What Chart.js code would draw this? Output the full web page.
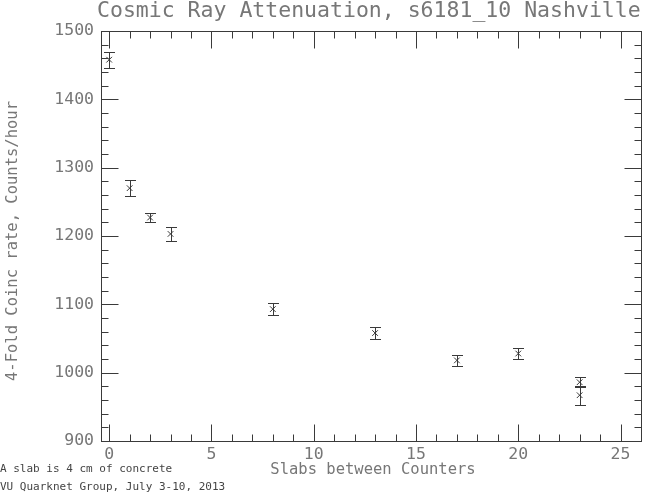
<!DOCTYPE html>
<html>
<head>
<meta charset="utf-8">
<script src="https://cdn.jsdelivr.net/npm/chart.js@4.4.1/dist/chart.umd.min.js"></script>
<style>
html,body{margin:0;padding:0;background:#fff;}
#wrap{width:646px;height:495px;position:relative;}
</style>
</head>
<body>
<div id="wrap"><canvas id="c" width="646" height="495"></canvas></div>
<script>
// ---- data ----
const slabs = [0, 1, 2, 3, 8, 13, 17, 20, 23, 23];
const rates = [1458, 1270, 1227, 1203, 1093, 1058, 1018, 1028, 986, 967];
const errors = [12, 12, 7, 10, 9, 9, 8.5, 7.5, 7, 14];
const xTickLabels = [0, 5, 10, 15, 20, 25];
const yTickLabels = [900, 1000, 1100, 1200, 1300, 1400, 1500];
const titleText = 'Cosmic Ray Attenuation, s6181_10 Nashville';
const xTitle = 'Slabs between Counters';
const yTitle = '4-Fold Coinc rate, Counts/hour';
const notes = ['A slab is 4 cm of concrete', 'VU Quarknet Group, July 3-10, 2013'];

const MONO = '"DejaVu Sans Mono", "Liberation Mono", monospace';
const TEXT = '#777777';
const LINE = '#3a3a3a';

const decor = {
  id: 'decor',
  afterDatasetsDraw(chart) {
    const ctx = chart.ctx;
    const xs = chart.scales.x, ys = chart.scales.y;
    const a = chart.chartArea;
    ctx.save();
    ctx.strokeStyle = LINE;
    ctx.lineWidth = 1;
    // error bars
    slabs.forEach((sx, i) => {
      const px = Math.round(xs.getPixelForValue(sx)) + 0.5;
      const top = Math.round(ys.getPixelForValue(rates[i] + errors[i])) + 0.5;
      const bot = Math.round(ys.getPixelForValue(rates[i] - errors[i])) + 0.5;
      const cap = 5.5;
      ctx.beginPath();
      ctx.moveTo(px, top); ctx.lineTo(px, bot);
      ctx.moveTo(px - cap, top); ctx.lineTo(px + cap, top);
      ctx.moveTo(px - cap, bot); ctx.lineTo(px + cap, bot);
      ctx.stroke();
    });
    // frame
    const L = Math.round(a.left) + 0.5, R = Math.round(a.right) + 0.5;
    const T = Math.round(a.top) + 0.5, B = Math.round(a.bottom) + 0.5;
    ctx.strokeRect(L, T, R - L, B - T);
    // x ticks (minor every 1, major every 5), inward top and bottom
    ctx.beginPath();
    for (let v = 0; v <= 26; v++) {
      const p = Math.round(xs.getPixelForValue(v)) + 0.5;
      if (p < L || p > R) continue;
      const len = (v % 5 === 0) ? 17 : 7;
      ctx.moveTo(p, B); ctx.lineTo(p, B - len);
      ctx.moveTo(p, T); ctx.lineTo(p, T + len);
    }
    // y ticks (minor every 20, major every 100)
    for (let v = 900; v <= 1500; v += 20) {
      const p = Math.round(ys.getPixelForValue(v)) + 0.5;
      const len = (v % 100 === 0) ? 17 : 7;
      ctx.moveTo(L, p); ctx.lineTo(L + len, p);
      ctx.moveTo(R, p); ctx.lineTo(R - len, p);
    }
    ctx.stroke();
    // texts
    ctx.fillStyle = TEXT;
    ctx.textAlign = 'left';
    ctx.textBaseline = 'alphabetic';
    ctx.font = '21.5px ' + MONO;
    ctx.fillText(titleText, 97, 17);
    ctx.font = '15.5px ' + MONO;
    ctx.textAlign = 'center';
    ctx.textBaseline = 'middle';
    ctx.fillText(xTitle, 373, 470);
    ctx.save();
    ctx.translate(13, 241);
    ctx.rotate(-Math.PI / 2);
    ctx.fillText(yTitle, 0, 0);
    ctx.restore();
    ctx.fillStyle = '#444444';
    ctx.font = '11px ' + MONO;
    ctx.textAlign = 'left';
    ctx.fillText(notes[0], 0, 469);
    ctx.fillText(notes[1], 0, 487);
    ctx.restore();
  }
};

new Chart(document.getElementById('c'), {
  type: 'scatter',
  data: {
    datasets: [{
      data: slabs.map((x, i) => ({ x: x, y: rates[i] })),
      pointStyle: 'crossRot',
      radius: 4,
      borderColor: LINE,
      borderWidth: 1,
      backgroundColor: LINE
    }]
  },
  options: {
    responsive: false,
    animation: false,
    layout: { padding: { left: 0, right: 5, top: 31, bottom: 0 } },
    plugins: { legend: { display: false }, tooltip: { enabled: false } },
    scales: {
      x: {
        type: 'linear',
        min: -0.4, max: 26,
        afterBuildTicks: s => { s.ticks = xTickLabels.map(v => ({ value: v })); },
        afterFit: s => { s.height = 54; },
        grid: { display: false, drawTicks: false },
        border: { display: false },
        ticks: { color: TEXT, font: { family: MONO, size: 16.5 }, padding: 4, maxRotation: 0,
                 callback: v => String(v) }
      },
      y: {
        type: 'linear',
        min: 900, max: 1500,
        afterBuildTicks: s => { s.ticks = yTickLabels.map(v => ({ value: v })); },
        afterFit: s => { s.width = 101; },
        grid: { display: false, drawTicks: false },
        border: { display: false },
        ticks: { color: TEXT, font: { family: MONO, size: 16.5 }, padding: 7,
                 callback: v => String(v) }
      }
    }
  },
  plugins: [decor]
});
</script>
</body>
</html>
